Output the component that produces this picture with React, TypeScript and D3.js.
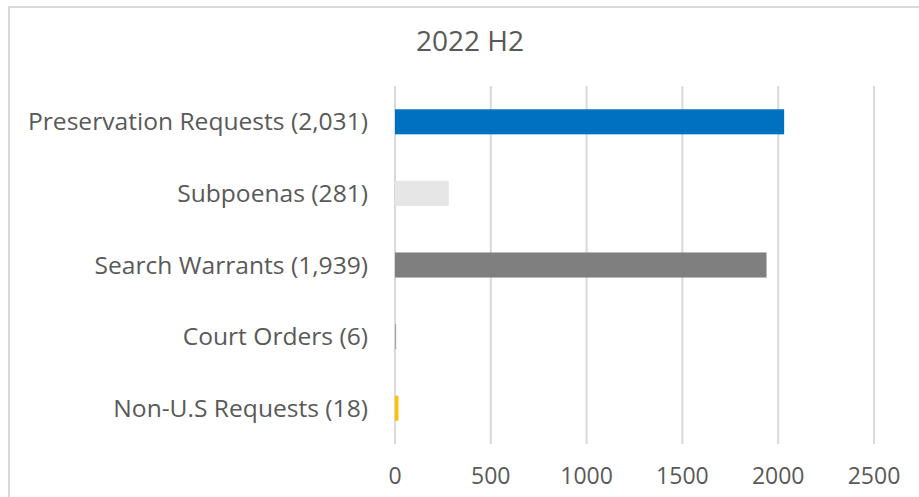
import React from 'react';
import { scaleLinear, scaleBand } from 'd3';

const categories = [
  'Preservation Requests (2,031)',
  'Subpoenas (281)',
  'Search Warrants (1,939)',
  'Court Orders (6)',
  'Non-U.S Requests (18)',
];
const values = [2031, 281, 1939, 6, 18];
const barColors = ['#0070C0', '#E7E6E6', '#7F7F7F', '#A5A5A5', '#FFC000'];
const xTicks = [0, 500, 1000, 1500, 2000, 2500];
const title = '2022 H2';

const W = 919;
const H = 497;
const font = '"Open Sans", "Noto Sans", sans-serif';

export default function App() {
  const x = scaleLinear().domain([0, 2500]).range([395, 874]);
  const y = scaleBand<string>()
    .domain(categories)
    .range([86, 444])
    .paddingInner(0.65)
    .paddingOuter(0.325);

  return (
    <svg
      width={W}
      height={H}
      style={{ position: 'absolute', left: 0, top: 0, background: '#fff' }}
    >
      {/* chart area border, runs off the right and bottom edges */}
      <rect x={9} y={7} width={W} height={H} fill="#fff" stroke="#D9D9D9" strokeWidth={2} />

      <text
        transform="translate(470,51) scale(1.04,1)"
        textAnchor="middle"
        fontFamily={font}
        fontSize={27}
        fill="#595959"
      >
        {title}
      </text>

      {/* gridlines */}
      {xTicks.map(t => (
        <line
          key={t}
          x1={x(t)}
          x2={x(t)}
          y1={86}
          y2={444}
          stroke="#D9D9D9"
          strokeWidth={2}
        />
      ))}

      {/* bars */}
      {categories.map((c, i) => (
        <rect
          key={c}
          x={x(0)}
          y={y(c)}
          width={x(values[i]) - x(0)}
          height={y.bandwidth()}
          fill={barColors[i]}
        />
      ))}

      {/* category labels (slightly wide, like the source) */}
      {categories.map(c => (
        <text
          key={c}
          transform={`translate(368,${(y(c) ?? 0) + y.bandwidth() / 2}) scale(1.07,1)`}
          textAnchor="end"
          dominantBaseline="central"
          fontFamily={font}
          fontSize={23}
          fill="#595959"
        >
          {c}
        </text>
      ))}

      {/* x tick labels */}
      {xTicks.map(t => (
        <text
          key={t}
          x={x(t)}
          y={475}
          textAnchor="middle"
          dominantBaseline="central"
          fontFamily={font}
          fontSize={23}
          fill="#595959"
        >
          {t}
        </text>
      ))}
    </svg>
  );
}
